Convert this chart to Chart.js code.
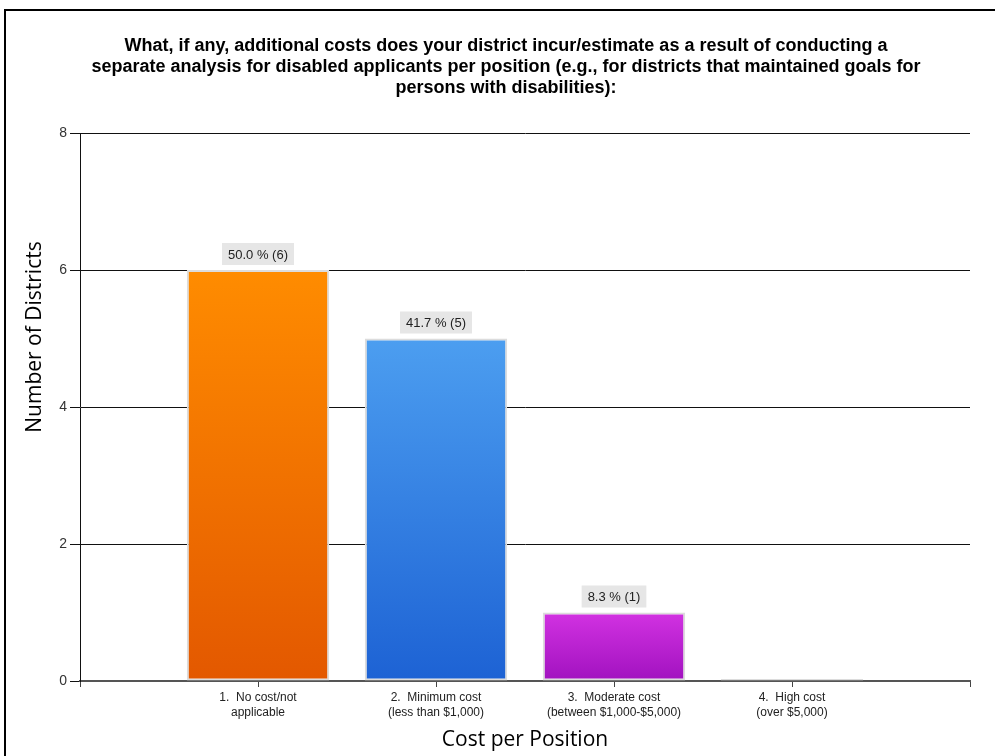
<!DOCTYPE html>
<html>
<head>
<meta charset="utf-8">
<script src="https://cdn.jsdelivr.net/npm/chart.js@4/dist/chart.umd.min.js"></script>
<style>
  html, body { margin: 0; padding: 0; background: #fff; overflow: hidden; }
  #wrap { position: relative; width: 995px; height: 756px; }
</style>
</head>
<body>
<div id="wrap"><canvas id="costChart" width="995" height="756"></canvas></div>
<script>
const titleLines = [
  "What, if any, additional costs does your district incur/estimate as a result of conducting a",
  "separate analysis for disabled applicants per position (e.g., for districts that maintained goals for",
  "persons with disabilities):",
];
const categories = [
  ["1.  No cost/not", "applicable"],
  ["2.  Minimum cost", "(less than $1,000)"],
  ["3.  Moderate cost", "(between $1,000-$5,000)"],
  ["4.  High cost", "(over $5,000)"],
];
const districts = [6, 5, 1, 0];
const yTicks = [0, 2, 4, 6, 8];
const xTitle = "Cost per Position";
const yTitle = "Number of Districts";

const topColors = ["#FF8C00", "#4C9EF0", "#D232E2", "#cccccc"];
const bottomColors = ["#E35800", "#1D62D4", "#A112BF", "#cccccc"];

const total = districts.reduce((a, b) => a + b, 0);

// one empty slot either side so the bars sit where the original has them
const labels = ["", ...categories, ""];
const values = [null, ...districts, null];

const barGradient = (context) => {
  const chart = context.chart;
  const i = context.dataIndex - 1;
  if (i < 0 || i >= districts.length) return "#fff";
  if (!chart.chartArea) return topColors[i];
  const y = chart.scales.y;
  const yTop = y.getPixelForValue(districts[i]);
  const yBot = y.getPixelForValue(0);
  if (yBot - yTop < 2) return bottomColors[i];
  const g = chart.ctx.createLinearGradient(0, yTop, 0, yBot);
  g.addColorStop(0, topColors[i]);
  g.addColorStop(1, bottomColors[i]);
  return g;
};

const framePlugin = {
  id: "frame",
  beforeDraw(chart) {
    const ctx = chart.ctx;
    ctx.save();
    ctx.strokeStyle = "#000";
    ctx.lineWidth = 2;
    ctx.strokeRect(5, 10, 1200, 1200);
    ctx.restore();
  },
};

const textPlugin = {
  id: "texts",
  afterDraw(chart) {
    const ctx = chart.ctx;
    const area = chart.chartArea;
    ctx.save();
    ctx.fillStyle = "#000";
    ctx.textAlign = "center";
    ctx.textBaseline = "middle";
    ctx.font = "bold 18px 'Liberation Sans', Arial, sans-serif";
    titleLines.forEach((line, k) => ctx.fillText(line, 506, 46 + k * 21));

    ctx.font = "21px 'Open Sans', sans-serif";
    ctx.fillText(xTitle, (area.left + area.right) / 2, 740);

    ctx.translate(35, 337);
    ctx.rotate(-Math.PI / 2);
    ctx.fillText(yTitle, 0, 0);
    ctx.restore();
  },
};

const valueLabelPlugin = {
  id: "valueLabels",
  afterDatasetsDraw(chart) {
    const ctx = chart.ctx;
    const meta = chart.getDatasetMeta(0);
    ctx.save();
    ctx.font = "13px 'Liberation Sans', Arial, sans-serif";
    ctx.textAlign = "center";
    ctx.textBaseline = "middle";
    meta.data.forEach((bar, idx) => {
      const v = values[idx];
      if (!v) return;
      const text = (v / total * 100).toFixed(1) + " % (" + v + ")";
      const w = ctx.measureText(text).width + 12;
      const h = 22;
      const cx = bar.x;
      const bottom = bar.y - 5;
      ctx.fillStyle = "#E6E6E6";
      ctx.fillRect(cx - w / 2, bottom - h, w, h);
      ctx.fillStyle = "#222";
      ctx.fillText(text, cx, bottom - h / 2 + 1);
    });
    ctx.restore();
  },
};

new Chart(document.getElementById("costChart").getContext("2d"), {
  type: "bar",
  data: {
    labels: labels,
    datasets: [
      {
        label: yTitle,
        data: values,
        backgroundColor: barGradient,
        borderColor: "#DCDCDC",
        borderWidth: 2,
        borderSkipped: false,
        barPercentage: 0.8,
        categoryPercentage: 1.0,
        minBarLength: 2,
      },
    ],
  },
  options: {
    responsive: false,
    animation: false,
    devicePixelRatio: 1,
    layout: { padding: { top: 133, right: 25, left: 0, bottom: 0 } },
    plugins: {
      legend: { display: false },
      tooltip: { enabled: false },
      title: { display: false },
    },
    scales: {
      x: {
        offset: false,
        grid: {
          offset: false,
          drawOnChartArea: false,
          drawTicks: true,
          tickLength: 6,
          color: "#444",
        },
        border: { color: "#555", width: 2 },
        ticks: {
          autoSkip: false,
          maxRotation: 0,
          padding: 3,
          color: "#222",
          font: { family: "'Liberation Sans', Arial, sans-serif", size: 12, lineHeight: 1.25 },
        },
        afterFit(scale) { scale.height = 75; },
      },
      y: {
        min: 0,
        max: 8,
        afterBuildTicks(scale) { scale.ticks = yTicks.map((v) => ({ value: v })); },
        grid: { color: "#111", tickLength: 10, lineWidth: 1 },
        border: { color: "#111", width: 1 },
        ticks: {
          padding: 3,
          color: "#333",
          font: { family: "'Liberation Sans', Arial, sans-serif", size: 14 },
        },
        afterFit(scale) { scale.width = 80; },
      },
    },
  },
  plugins: [framePlugin, textPlugin, valueLabelPlugin],
});
</script>
</body>
</html>
